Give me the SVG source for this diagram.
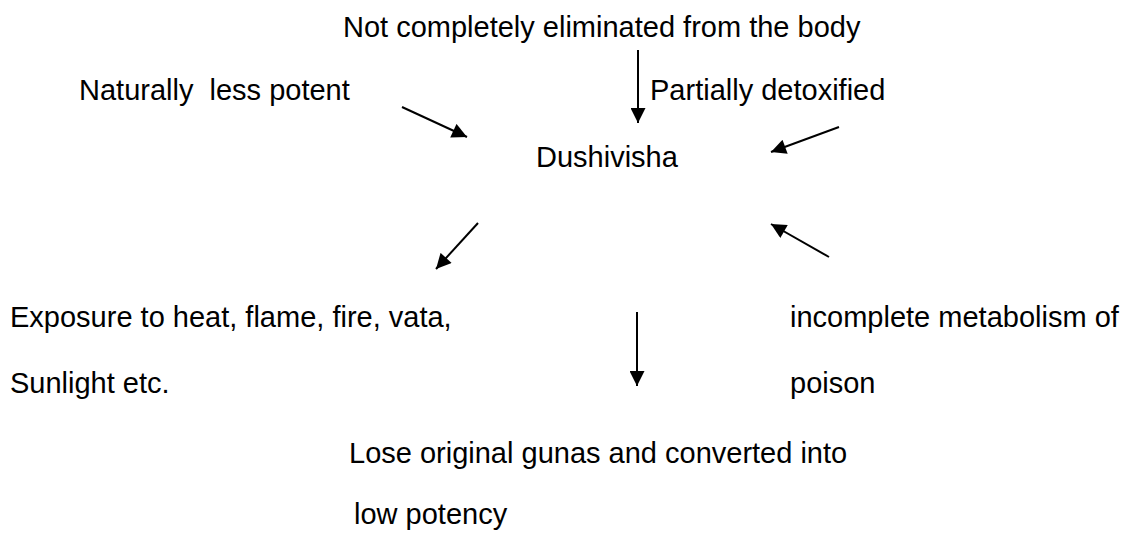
<svg xmlns="http://www.w3.org/2000/svg" width="1123" height="533" viewBox="0 0 1123 533">
<style>
text{font-family:"Liberation Sans",Arial,sans-serif;font-size:29px;fill:#000;white-space:pre}
.c line{stroke:#000;stroke-width:2;fill:none}
</style>
<defs>
<marker id="ah" viewBox="0 0 10 10" refX="10" refY="5" markerWidth="16" markerHeight="15" markerUnits="userSpaceOnUse" orient="auto"><path d="M0,0L10,5L0,10z" fill="#000"/></marker>
</defs>
<rect width="1123" height="533" fill="#fff"/>
<g id="n-top"><text x="343" y="37">Not completely eliminated from the body</text></g>
<g id="n-natural"><text x="79" y="100" xml:space="preserve">Naturally  less potent</text></g>
<g id="n-partial"><text x="650" y="100">Partially detoxified</text></g>
<g id="n-dushi"><text x="536" y="167">Dushivisha</text></g>
<g id="n-exposure"><text x="10" y="327">Exposure to heat, flame, fire, vata,</text><text x="10" y="393">Sunlight etc.</text></g>
<g id="n-metab"><text x="790" y="327">incomplete metabolism of</text><text x="790" y="393">poison</text></g>
<g id="n-lose"><text x="349" y="463">Lose original gunas and converted into</text><text x="354" y="524">low potency</text></g>
<g class="c" id="connectors">
<line x1="402" y1="107" x2="467" y2="137" marker-end="url(#ah)"/>
<line x1="638" y1="50" x2="638" y2="123" marker-end="url(#ah)"/>
<line x1="839" y1="127" x2="771" y2="152" marker-end="url(#ah)"/>
<line x1="478" y1="223" x2="436" y2="269" marker-end="url(#ah)"/>
<line x1="829" y1="257" x2="771" y2="224" marker-end="url(#ah)"/>
<line x1="637" y1="312" x2="637" y2="386" marker-end="url(#ah)"/>
</g>
</svg>
